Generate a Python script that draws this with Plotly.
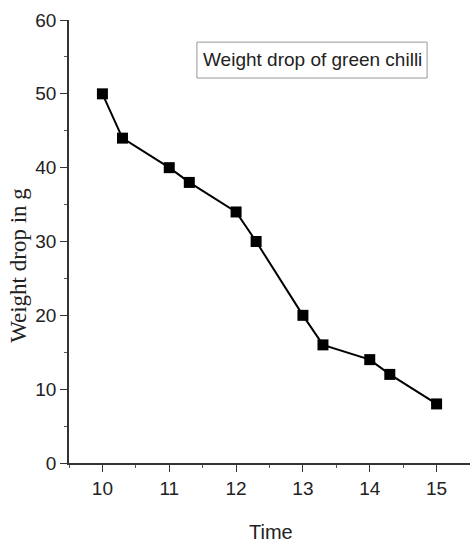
import plotly.graph_objects as go

time = [10, 10.3, 11, 11.3, 12, 12.3, 13, 13.3, 14, 14.3, 15]
weight_drop = [50, 44, 40, 38, 34, 30, 20, 16, 14, 12, 8]
legend_label = "Weight drop of green chilli"
x_title = "Time"
y_title = "Weight drop in g"
x_ticks = [10, 11, 12, 13, 14, 15]
y_ticks = [0, 10, 20, 30, 40, 50, 60]

tick_font = dict(family="Liberation Sans, Arial", size=19, color="#222")

fig = go.Figure()
fig.add_trace(go.Scatter(
    x=time, y=weight_drop, mode="lines+markers",
    line=dict(color="black", width=2),
    marker=dict(symbol="square", size=11, color="black"),
    showlegend=False,
))

fig.update_layout(
    width=470, height=547,
    margin=dict(l=69, r=0, t=20, b=84),
    paper_bgcolor="white", plot_bgcolor="white",
    xaxis=dict(
        range=[9.5, 15.5], tickvals=x_ticks,
        showgrid=False, zeroline=False, showline=True, linecolor="#333", linewidth=1.5,
        ticks="outside", ticklen=7, tickcolor="#333", tickwidth=1.2,
        minor=dict(dtick=0.5, ticks="outside", ticklen=3, tickcolor="#555"),
        tickfont=tick_font,
    ),
    yaxis=dict(
        range=[0, 60], tickvals=y_ticks,
        showgrid=False, zeroline=False, showline=True, linecolor="#333", linewidth=1.5,
        ticks="outside", ticklen=7, tickcolor="#333", tickwidth=1.2,
        minor=dict(dtick=5, ticks="outside", ticklen=3, tickcolor="#555"),
        tickfont=tick_font,
    ),
    shapes=[dict(
        type="rect", xref="paper", yref="paper",
        x0=0.319, x1=0.893, y0=0.869, y1=0.950,
        line=dict(color="#999", width=1), fillcolor="white", layer="below",
    )],
    annotations=[
        dict(
            text=legend_label, xref="paper", yref="paper",
            x=0.606, y=0.910, xanchor="center", yanchor="middle", showarrow=False,
            font=dict(family="Liberation Sans, Arial", size=19, color="#222"),
        ),
        dict(
            text=x_title, xref="paper", yref="paper",
            x=0.504, y=-0.156, xanchor="center", yanchor="middle", showarrow=False,
            font=dict(family="Liberation Sans, Arial", size=20, color="#222"),
        ),
        dict(
            text=y_title, xref="paper", yref="paper", textangle=-90,
            x=-0.125, y=0.447, xanchor="center", yanchor="middle", showarrow=False,
            font=dict(family="Liberation Serif, Times New Roman, serif", size=23, color="#222"),
        ),
    ],
)

fig.write_html("out.html")
